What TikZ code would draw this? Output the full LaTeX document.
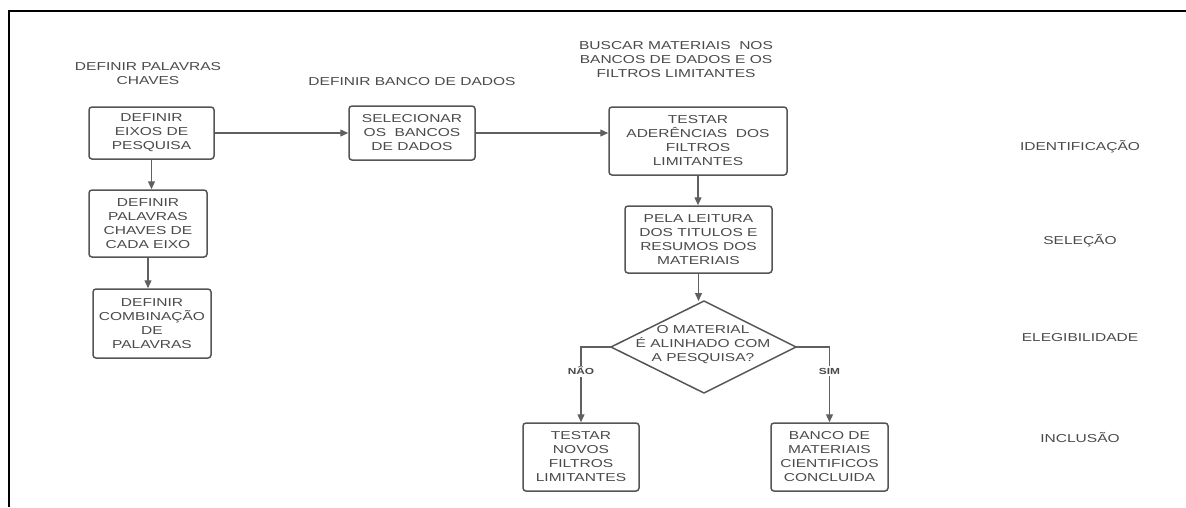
\documentclass[tikz,border=0pt]{standalone}
\usepackage{fontspec}
\setmainfont{Liberation Sans}[FakeStretch=1.35]
\usetikzlibrary{arrows.meta}
\definecolor{txt}{HTML}{4A4A4A}
\definecolor{edge}{HTML}{555555}
\definecolor{arr}{HTML}{606060}
\newcommand\fs{\fontsize{11.5}{14}\selectfont}
\newcommand\fsb{\fontsize{8.8}{10}\selectfont\bfseries}
\tikzset{
  every node/.style={font=\fs, text=txt, align=center, inner sep=0pt},
  boxnode/.style={draw=edge, line width=1.5pt, rounded corners=3pt},
  flow/.style={draw=arr, line width=1.3pt, -{Triangle[length=8pt,width=7pt]}},
  lbl/.style={font=\fsb, fill=white, inner sep=1.5pt},
}
\begin{document}
\begin{tikzpicture}[x=1pt,y=-1pt]
\useasboundingbox (0,0) rectangle (1186,507);
\draw[line width=2pt, black] (9,507) -- (9,11) -- (1186,11);

% titles
\node (t1) at (148,74) {DEFINIR PALAVRAS\\CHAVES};
\node (t2) at (412,82) {DEFINIR BANCO DE DADOS};
\node (t3) at (676,60) {BUSCAR MATERIAIS\ \ NOS\\BANCOS DE DADOS E OS\\FILTROS LIMITANTES};

% stage labels
\node (s1) at (1080,147) {IDENTIFICAÇÃO};
\node (s2) at (1080,241) {SELEÇÃO};
\node (s3) at (1080,338) {ELEGIBILIDADE};
\node (s4) at (1080,437) {INCLUSÃO};

% boxes
\node[boxnode, minimum width=125, minimum height=52] (A) at (151.5,133) {DEFINIR\\EIXOS DE\\PESQUISA};
\node[boxnode, minimum width=118, minimum height=67] (B) at (148,223.5) {DEFINIR\\PALAVRAS\\CHAVES DE\\CADA EIXO};
\node[boxnode, minimum width=118, minimum height=69] (C) at (152,323.5) {DEFINIR\\COMBINAÇÃO\\DE\\PALAVRAS};
\node[boxnode, minimum width=126, minimum height=54] (D) at (412,133) {SELECIONAR\\OS\ \ BANCOS\\DE DADOS};
\node[boxnode, minimum width=178, minimum height=68] (E) at (698,141) {TESTAR\\ADERÊNCIAS\ \ DOS\\FILTROS\\LIMITANTES};
\node[boxnode, minimum width=147, minimum height=67] (F) at (698.5,239.5) {PELA LEITURA\\DOS TITULOS E\\RESUMOS DOS\\MATERIAIS};
\node[boxnode, minimum width=116, minimum height=68] (G) at (581,457) {TESTAR\\NOVOS\\FILTROS\\LIMITANTES};
\node[boxnode, minimum width=117, minimum height=68] (H) at (829.5,457) {BANCO DE\\MATERIAIS\\CIENTIFICOS\\CONCLUIDA};

% decision diamond
\coordinate (dt) at (704,301);
\coordinate (dl) at (611,347);
\coordinate (dr) at (796,347);
\coordinate (db) at (704,393);
\draw[draw=edge, line width=1.5pt, line join=round] (dt) -- (dr) -- (db) -- (dl) -- cycle;
\node (Q) at (703,345) {O MATERIAL\\É ALINHADO COM\\A PESQUISA?};

% connectors
\draw[flow] (A.east) -- (A.east -| D.west);
\draw[flow] (D.east) -- (D.east -| E.west);
\draw[flow] (A.south) -- (A.south |- B.north);
\draw[flow] (B.south) -- (B.south |- C.north);
\draw[flow] (E.south) -- (E.south |- F.north);
\draw[flow] (F.south) -- (F.south |- dt);
\draw[flow] (dl) -| (G.north) node[lbl, pos=0.66] (nao) {NÃO};
\draw[flow] (dr) -| (H.north) node[lbl, pos=0.66] (sim) {SIM};
\end{tikzpicture}
\end{document}
